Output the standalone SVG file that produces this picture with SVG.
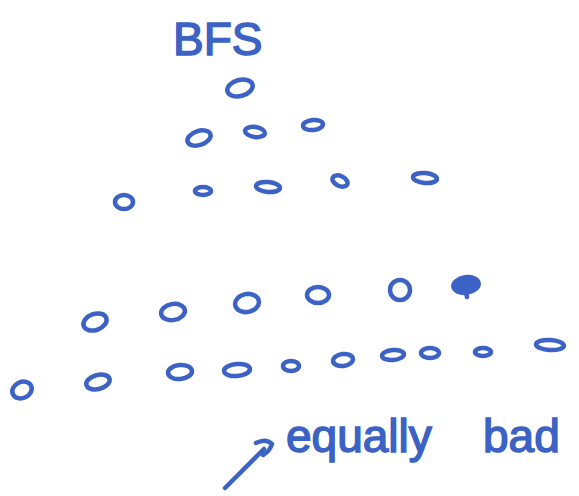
<svg xmlns="http://www.w3.org/2000/svg" width="579" height="496" viewBox="0 0 579 496">
<style>
.n{fill:none;stroke:#3b62c4;stroke-width:4.5;stroke-linecap:round}
.f{fill:#3b62c4;stroke:#3b62c4;stroke-width:4}
.t{fill:#3b62c4;stroke:#3b62c4;stroke-width:1.5;font-family:"Liberation Sans",Arial,sans-serif}
</style>
<rect width="579" height="496" fill="#ffffff"/>
<text class="t" x="173" y="55" font-size="46">BFS</text>
<g id="r1n1"><ellipse class="n" cx="240" cy="88" rx="13" ry="8" transform="rotate(-15 240 88)"/></g>
<g id="r2n1"><ellipse class="n" cx="199" cy="138" rx="12" ry="7" transform="rotate(-18 199 138)"/></g>
<g id="r2n2"><ellipse class="n" cx="255" cy="132" rx="10" ry="5" transform="rotate(8 255 132)"/></g>
<g id="r2n3"><ellipse class="n" cx="313" cy="125" rx="10" ry="5" transform="rotate(-6 313 125)"/></g>
<g id="r3n1"><ellipse class="n" cx="124" cy="202" rx="9" ry="7"/></g>
<g id="r3n2"><ellipse class="n" cx="203" cy="191" rx="8" ry="4"/></g>
<g id="r3n3"><ellipse class="n" cx="268" cy="187" rx="12" ry="5" transform="rotate(5 268 187)"/></g>
<g id="r3n4"><ellipse class="n" cx="340" cy="181" rx="8" ry="5" transform="rotate(25 340 181)"/></g>
<g id="r3n5"><ellipse class="n" cx="425" cy="178" rx="12" ry="5" transform="rotate(5 425 178)"/></g>
<g id="r4n1"><ellipse class="n" cx="95" cy="322" rx="12" ry="8" transform="rotate(-20 95 322)"/></g>
<g id="r4n2"><ellipse class="n" cx="173" cy="312" rx="12" ry="8" transform="rotate(-10 173 312)"/></g>
<g id="r4n3"><ellipse class="n" cx="247" cy="303" rx="12" ry="9" transform="rotate(-10 247 303)"/></g>
<g id="r4n4"><ellipse class="n" cx="318" cy="295" rx="11" ry="8"/></g>
<g id="r4n5"><ellipse class="n" cx="400" cy="290" rx="10" ry="10"/></g>
<g id="r4n6"><ellipse class="f" cx="466" cy="285" rx="13" ry="8" transform="rotate(-8 466 285)"/><path class="n" d="M466 292 L467 297"/></g>
<g id="r5n1"><ellipse class="n" cx="22" cy="390" rx="10" ry="8" transform="rotate(-25 22 390)"/></g>
<g id="r5n2"><ellipse class="n" cx="98" cy="382" rx="12" ry="7" transform="rotate(-15 98 382)"/></g>
<g id="r5n3"><ellipse class="n" cx="180" cy="372" rx="12" ry="7" transform="rotate(-5 180 372)"/></g>
<g id="r5n4"><ellipse class="n" cx="237" cy="370" rx="13" ry="6" transform="rotate(-5 237 370)"/></g>
<g id="r5n5"><ellipse class="n" cx="291" cy="366" rx="8" ry="5"/></g>
<g id="r5n6"><ellipse class="n" cx="343" cy="360" rx="10" ry="6" transform="rotate(-8 343 360)"/></g>
<g id="r5n7"><ellipse class="n" cx="393" cy="355" rx="11" ry="5" transform="rotate(-5 393 355)"/></g>
<g id="r5n8"><ellipse class="n" cx="430" cy="353" rx="9" ry="5"/></g>
<g id="r5n9"><ellipse class="n" cx="483" cy="352" rx="8" ry="4"/></g>
<g id="r5n10"><ellipse class="n" cx="550" cy="345" rx="14" ry="5" transform="rotate(3 550 345)"/></g>
<g id="note"><text class="t" x="286" y="452" font-size="46">equally<tspan x="483">bad</tspan></text></g>
<g id="connectors">
<path class="n" d="M225 488 L264 449"/>
<path class="n" d="M256 443 Q266 438 272 444 Q270 451 263 455"/>
</g>
</svg>
